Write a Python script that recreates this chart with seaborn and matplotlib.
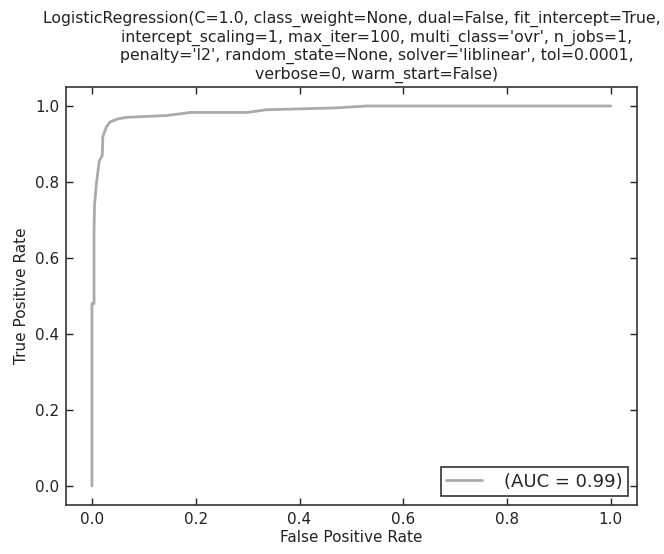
import numpy as np
import pandas as pd
import matplotlib
matplotlib.use("Agg")
import matplotlib.pyplot as plt
import seaborn as sns

# ROC curve points
fpr = [0.0, 0.0, 0.004, 0.004, 0.005, 0.009, 0.014, 0.020, 0.021, 0.028,
       0.035, 0.050, 0.066, 0.145, 0.190, 0.300, 0.335, 0.470, 0.530, 1.0]
tpr = [0.0, 0.48, 0.48, 0.67, 0.74, 0.80, 0.855, 0.87, 0.92, 0.945,
       0.958, 0.966, 0.970, 0.975, 0.983, 0.983, 0.99, 0.995, 1.0, 1.0]
auc_label = "(AUC = 0.99)"
title = ("LogisticRegression(C=1.0, class_weight=None, dual=False, fit_intercept=True,\n"
         "          intercept_scaling=1, max_iter=100, multi_class='ovr', n_jobs=1,\n"
         "          penalty='l2', random_state=None, solver='liblinear', tol=0.0001,\n"
         "          verbose=0, warm_start=False)")

sns.set_style("white")
plt.rcParams['font.family'] = ['DejaVu Sans']

df = pd.DataFrame({'fpr': fpr, 'tpr': tpr})

fig = plt.figure(figsize=(6.64, 5.54), dpi=100)
ax = fig.add_axes([0.0994, 0.0884, 0.8596, 0.7546])

sns.lineplot(data=df, x='fpr', y='tpr', sort=False, estimator=None,
             color='#aaaaaa', linewidth=2, label=auc_label, ax=ax)

ax.set_xlim(-0.05, 1.05)
ax.set_ylim(-0.05, 1.05)
ax.set_xticks(np.arange(0, 1.01, 0.2))
ax.set_yticks(np.arange(0, 1.01, 0.2))
ax.set_xlabel('False Positive Rate', fontsize=11, color='#222222', labelpad=2)
ax.set_ylabel('True Positive Rate', fontsize=11, color='#222222', labelpad=4)
ax.set_title(title, fontsize=11.3, color='#222222', loc='center', pad=6)

ax.tick_params(direction='in', length=5, width=1, top=True, right=True,
               bottom=True, left=True, labelsize=11, colors='#222222', pad=5)
for sp in ax.spines.values():
    sp.set_color('#333333')
    sp.set_linewidth(1.2)

leg = ax.legend(loc='lower right', fontsize=13, fancybox=False, framealpha=1,
                handlelength=2.0, handletextpad=1.2, borderpad=0.3)
leg.get_frame().set_edgecolor('#333333')
leg.get_frame().set_linewidth(1.2)

fig.savefig('out.png', dpi=100)
